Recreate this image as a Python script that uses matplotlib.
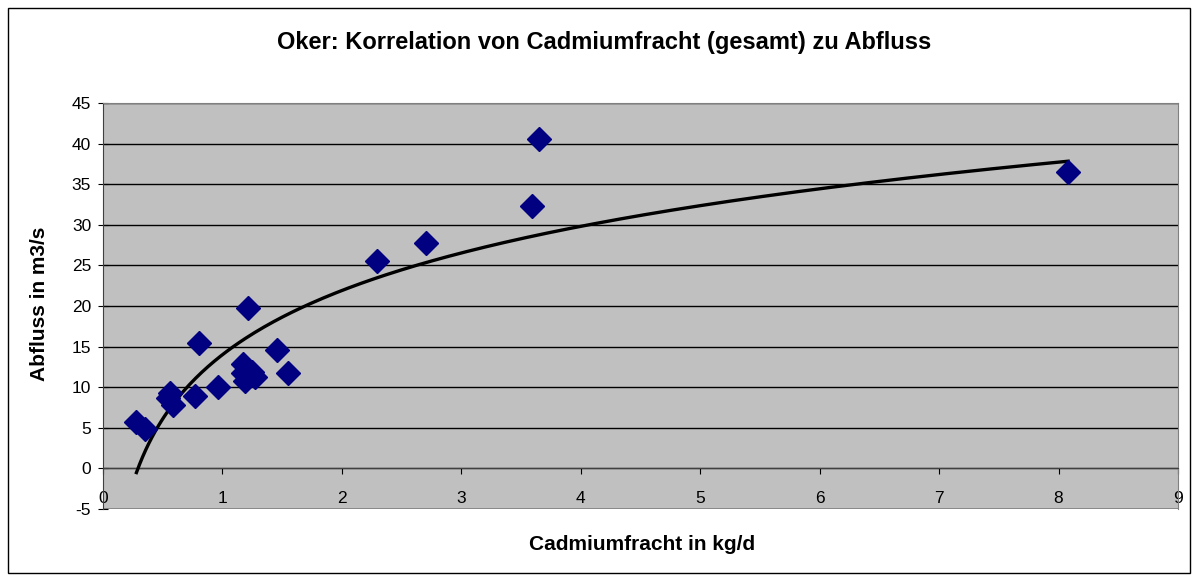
import matplotlib.pyplot as plt
from matplotlib.patches import Rectangle
import numpy as np

plt.rcParams["font.family"] = ["Liberation Sans", "DejaVu Sans"]
plt.rcParams["axes.unicode_minus"] = False

# Cadmiumfracht (kg/d) und Abfluss (m3/s)
cadmium = [0.28, 0.35, 0.56, 0.54, 0.59, 0.80, 0.77, 0.96, 1.17, 1.17,
           1.19, 1.27, 1.25, 1.46, 1.55, 1.21, 2.29, 2.70, 3.59, 3.65, 8.08]
abfluss = [5.7, 4.9, 9.3, 8.7, 7.8, 15.5, 8.9, 10.0, 12.9, 11.8,
           10.8, 11.2, 11.9, 14.6, 11.8, 19.7, 25.6, 27.7, 32.3, 40.6, 36.5]

x_ticks = list(range(0, 10))
y_ticks = list(range(-5, 50, 5))

title = "Oker: Korrelation von Cadmiumfracht (gesamt) zu Abfluss"
x_label = "Cadmiumfracht in kg/d"
y_label = "Abfluss in m3/s"

fig = plt.figure(figsize=(11.98, 5.81), dpi=100)
fig.patch.set_facecolor("white")

# Rahmen um das ganze Diagramm
fig.patches.append(Rectangle((8 / 1198, 8 / 581), 1182 / 1198, 565 / 581,
                             transform=fig.transFigure, fill=False,
                             edgecolor="black", linewidth=1.0))

ax = fig.add_axes([103 / 1198, 1 - 509 / 581, 1075 / 1198, 406 / 581])
ax.set_facecolor("#C0C0C0")

# Gitterlinien
for yv in y_ticks[1:]:
    ax.axhline(yv, color="black", linewidth=1.0, zorder=1)
ax.axhline(-5, color="#808080", linewidth=1.2, zorder=1)

# Logarithmische Trendlinie (Excel-Stil), aus den Daten gefittet
xs = np.array(cadmium)
a, b = np.polyfit(np.log(xs), np.array(abfluss), 1)
xt = np.linspace(xs.min(), xs.max(), 300)
ax.plot(xt, a * np.log(xt) + b, color="black", linewidth=2.4, zorder=3)

ax.plot(cadmium, abfluss, linestyle="none", marker="D", markersize=12,
        color="#000080", zorder=4)

ax.set_xlim(0, 9)
ax.set_ylim(-5, 45)
ax.set_xticks(x_ticks)
ax.set_yticks(y_ticks)

ax.spines["bottom"].set_position(("data", 0))
ax.spines["bottom"].set_color("#404040")
ax.spines["left"].set_color("#404040")
ax.spines["top"].set_color("#808080")
ax.spines["right"].set_color("#808080")
ax.tick_params(axis="both", labelsize=12.5, color="black")
ax.tick_params(axis="y", direction="inout", length=7, pad=5)
ax.tick_params(axis="x", direction="out", length=4, pad=12)

fig.text(604 / 1198, 1 - 42 / 581, title, ha="center", va="center",
         fontsize=17, fontweight="bold")
fig.text(642 / 1198, 1 - 545 / 581, x_label, ha="center", va="center",
         fontsize=15, fontweight="bold")
fig.text(40 / 1198, 1 - 304 / 581, y_label, ha="center", va="center",
         rotation=90, fontsize=15, fontweight="bold")

plt.savefig("out.png", dpi=100)
